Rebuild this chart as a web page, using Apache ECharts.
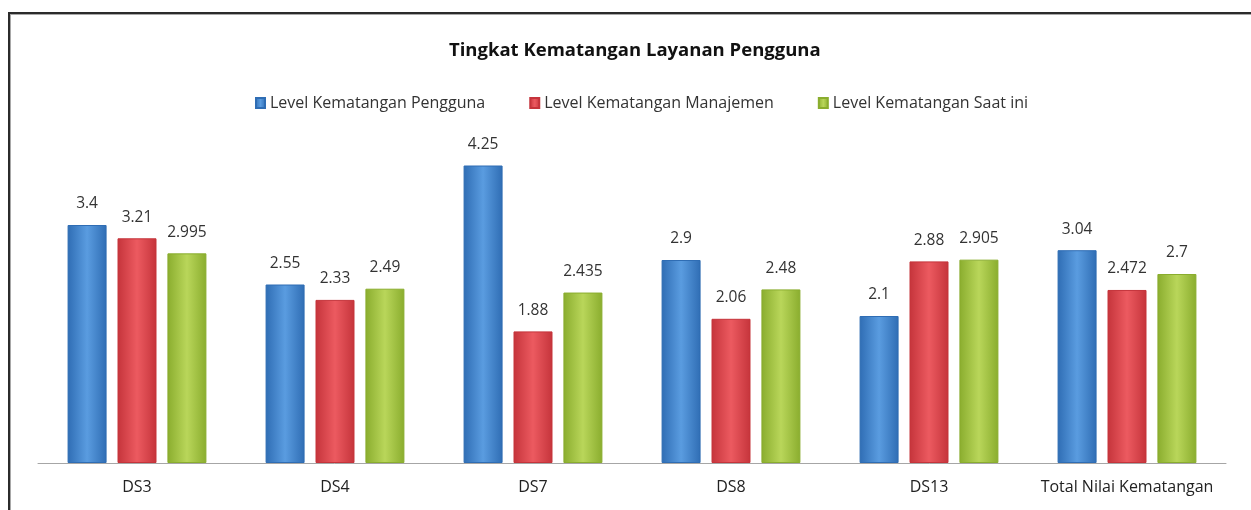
<!DOCTYPE html>
<html>
<head>
<meta charset="utf-8">
<script src="https://cdn.jsdelivr.net/npm/echarts@6/dist/echarts.min.js"></script>
<style>
    html, body { margin: 0; padding: 0; background: #fff; }
    #frame {
        position: absolute; left: 8px; top: 12px; width: 1300px; height: 600px;
        border-top: 2px solid #2b2b2b; border-left: 2px solid #2b2b2b;
    }
    #frame-inner {
        position: absolute; left: 0; top: 0; right: 0; bottom: 0;
        border-top: 1px solid #a8a8a8; border-left: 1px solid #a8a8a8;
    }
    #chart { position: absolute; left: 0; top: 0; width: 1251px; height: 510px; }
</style>
</head>
<body>
<div id="frame"><div id="frame-inner"></div></div>
<div id="chart"></div>
<script>
    // data
    var categories = ['DS3', 'DS4', 'DS7', 'DS8', 'DS13', 'Total Nilai Kematangan'];
    var seriesNames = ['Level Kematangan Pengguna', 'Level Kematangan Manajemen', 'Level Kematangan Saat ini'];
    var pengguna = [3.4, 2.55, 4.25, 2.9, 2.1, 3.04];
    var manajemen = [3.21, 2.33, 1.88, 2.06, 2.88, 2.472];
    var saatIni = [2.995, 2.49, 2.435, 2.48, 2.905, 2.7];

    // edge, centre colour of each bar
    var colors = [
        ['#2f6db4', '#5a9ce0'],
        ['#c5343b', '#ec5a60'],
        ['#8aad2e', '#b9d65a']
    ];

    function barGradient(c) {
        return new echarts.graphic.LinearGradient(0, 0, 1, 0, [
            {offset: 0, color: c[0]},
            {offset: 0.5, color: c[1]},
            {offset: 1, color: c[0]}
        ]);
    }

    function makeSeries(name, data, i) {
        return {
            name: name,
            type: 'bar',
            data: data,
            barWidth: 39,
            barGap: '28%',
            itemStyle: {
                color: barGradient(colors[i]),
                borderColor: colors[i][0],
                borderWidth: 1
            },
            label: {
                show: true,
                position: 'top',
                distance: 13,
                color: '#333',
                fontFamily: 'Open Sans',
                fontSize: 15.5
            }
        };
    }

    var chart = echarts.init(document.getElementById('chart'));
    var option = {
        animation: false,
        color: [colors[0][1], colors[1][1], colors[2][1]],
        title: {
            text: 'Tingkat Kematangan Layanan Pengguna',
            left: 444,
            top: 36,
            textStyle: {
                fontFamily: 'Open Sans',
                fontSize: 18.5,
                fontWeight: 'bold',
                color: '#111'
            }
        },
        legend: {
            top: 90,
            left: 250,
            itemGap: 44,
            itemWidth: 9,
            itemHeight: 10,
            icon: 'rect',
            textStyle: {
                fontFamily: 'Open Sans',
                fontSize: 16,
                color: '#333'
            },
            data: seriesNames
        },
        grid: {
            left: 38,
            right: 25,
            top: 113,
            bottom: 47,
            containLabel: false
        },
        xAxis: {
            type: 'category',
            data: categories,
            axisLine: {lineStyle: {color: '#a6a6a6', width: 1}},
            axisTick: {show: false},
            axisLabel: {
                interval: 0,
                margin: 16,
                color: '#222',
                fontFamily: 'Open Sans',
                fontSize: 16
            }
        },
        yAxis: {
            type: 'value',
            min: 0,
            max: 5,
            show: false,
            splitLine: {show: false}
        },
        series: [
            makeSeries(seriesNames[0], pengguna, 0),
            makeSeries(seriesNames[1], manajemen, 1),
            makeSeries(seriesNames[2], saatIni, 2)
        ]
    };
    chart.setOption(option);
</script>
</body>
</html>
